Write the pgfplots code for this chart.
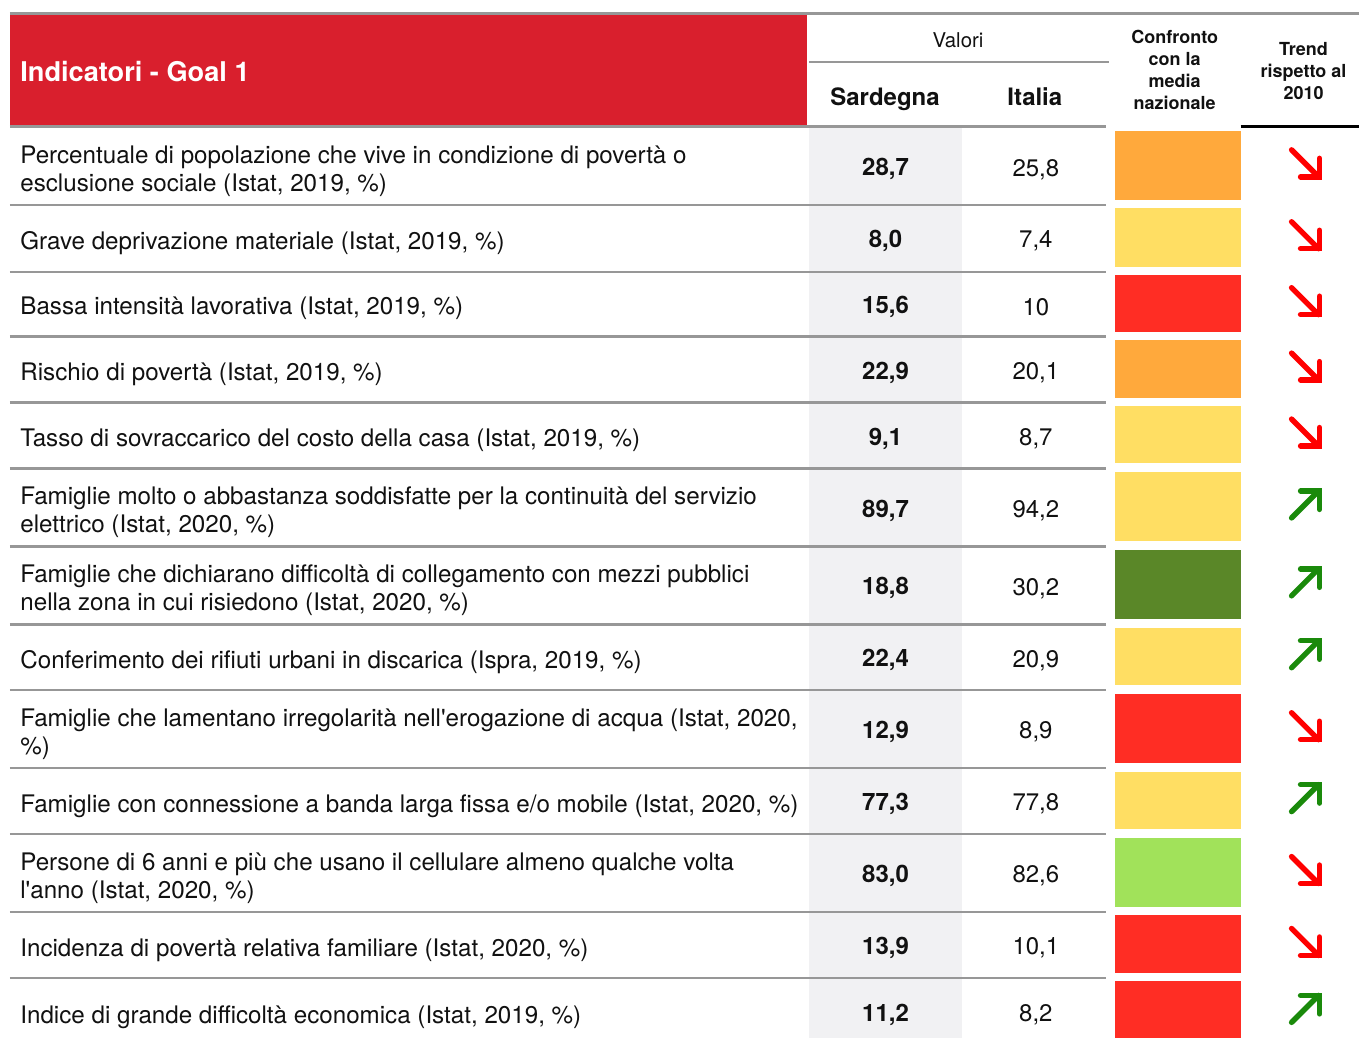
\documentclass[border=0pt]{standalone}
\usepackage{fontspec}
\setmainfont{TeX Gyre Heros}[Ligatures=TeXOff]
\usepackage{pgfplots}
\pgfplotsset{compat=1.18}
\usepackage{pgfplotstable}

\definecolor{hdrred}{HTML}{D91F2D}
\definecolor{cOrange}{HTML}{FFA93C}
\definecolor{cYellow}{HTML}{FFDE63}
\definecolor{cRed}{HTML}{FF2D24}
\definecolor{cDkGreen}{HTML}{5A8728}
\definecolor{cLtGreen}{HTML}{A1E25A}
\definecolor{lineGray}{HTML}{979797}
\definecolor{sardBg}{HTML}{F1F1F3}
\definecolor{arRed}{HTML}{FF0000}
\definecolor{arGreen}{HTML}{1A8A0B}
\definecolor{txt}{HTML}{111111}

\pgfplotstableread{
y sard ital
166.5 28,7 25,8
238.5 8,0 7,4
304.5 15,6 10
370 22,9 20,1
436 9,1 8,7
508 89,7 94,2
586 18,8 30,2
658 22,4 20,9
730 12,9 8,9
802 77,3 77,8
874 83,0 82,6
946 13,9 10,1
1013 11,2 8,2
}\valtable

\newcommand\cbox[3]{\addplot[fill=#3, draw=none, mark=none] coordinates {(1116,#1) (1242,#1) (1242,#2) (1116,#2)};}
\newcommand\rowline[1]{\addplot[lineGray, line width=1.2pt, mark=none] coordinates {(10,#1) (1107,#1)};}
\newcommand\trenddn[1]{%
  \pgfmathsetmacro\ya{#1-16.5}\pgfmathsetmacro\yb{#1+10.5}\pgfmathsetmacro\yc{#1-8}%
  \addplot[arRed, line width=2.7pt, line cap=round, mark=none] coordinates {(1293,\ya) (1320,\yb)};
  \addplot[arRed, line width=2.7pt, line cap=round, line join=miter, mark=none] coordinates {(1302,\yb) (1321,\yb) (1321,\yc)};
}
\newcommand\trendup[1]{%
  \pgfmathsetmacro\ya{#1+10.5}\pgfmathsetmacro\yb{#1-16.5}\pgfmathsetmacro\yc{#1+2}%
  \addplot[arGreen, line width=2.7pt, line cap=round, mark=none] coordinates {(1293,\ya) (1320,\yb)};
  \addplot[arGreen, line width=2.7pt, line cap=round, line join=miter, mark=none] coordinates {(1302,\yb) (1321,\yb) (1321,\yc)};
}

\tikzset{lbl/.style={anchor=west, align=left, inner sep=0pt, text=txt, font=\fontsize{12.1}{14}\selectfont}}

\begin{document}
\begin{tikzpicture}
\begin{axis}[width=680pt, height=519.5pt, scale only axis,
  xmin=0, xmax=1360, ymin=0, ymax=1039, y dir=reverse,
  hide axis, clip=false]
% bounding
\addplot[draw=none, mark=none] coordinates {(0,0) (1360,1039)};
% backgrounds
\addplot[fill=hdrred, draw=none, mark=none] coordinates {(10,15) (808,15) (808,126) (10,126)};
\addplot[fill=sardBg, draw=none, mark=none] coordinates {(810,128) (963,128) (963,1039) (810,1039)};
% header lines
\addplot[lineGray, line width=1.5pt, mark=none] coordinates {(10,13.5) (1360,13.5)};
\addplot[lineGray, line width=1pt, mark=none] coordinates {(810,62) (1110,62)};
\addplot[lineGray, line width=1.5pt, mark=none] coordinates {(10,127) (1107,127)};
\addplot[black, line width=1.5pt, mark=none] coordinates {(1242,127) (1360,127)};
% row lines
\rowline{205}\rowline{272}\rowline{337}\rowline{403}\rowline{469}\rowline{547}
\rowline{625}\rowline{691}\rowline{769}\rowline{835}\rowline{913}\rowline{979}
% colour boxes
\cbox{131.5}{200}{cOrange}
\cbox{208.5}{267}{cYellow}
\cbox{275.5}{332}{cRed}
\cbox{340.5}{398}{cOrange}
\cbox{406.5}{464}{cYellow}
\cbox{472.5}{542}{cYellow}
\cbox{550.5}{620}{cDkGreen}
\cbox{628.5}{686}{cYellow}
\cbox{694.5}{764}{cRed}
\cbox{772.5}{830}{cYellow}
\cbox{838.5}{908}{cLtGreen}
\cbox{916.5}{974}{cRed}
\cbox{982.5}{1039}{cRed}
% arrows
\trenddn{166.5}
\trenddn{238.5}
\trenddn{304.5}
\trenddn{370}
\trenddn{436}
\trendup{508}
\trendup{586}
\trendup{658}
\trenddn{730}
\trendup{802}
\trenddn{874}
\trenddn{946}
\trendup{1013}
% values
\addplot[draw=none, mark=none, nodes near coords, point meta=explicit symbolic,
  nodes near coords align={anchor=center},
  every node near coord/.append style={font=\fontsize{12}{14}\selectfont\bfseries, inner sep=0pt, text=txt}]
  table[x expr=886.5, y expr=\thisrow{y}+3, meta=sard] {\valtable};
\addplot[draw=none, mark=none, nodes near coords, point meta=explicit symbolic,
  nodes near coords align={anchor=center},
  every node near coord/.append style={font=\fontsize{12}{14}\selectfont, inner sep=0pt, text=txt}]
  table[x expr=1037, y expr=\thisrow{y}+3, meta=ital] {\valtable};
% header text
\node[anchor=west, inner sep=0pt, text=white, font=\fontsize{13.6}{15}\selectfont\bfseries] at (axis cs:20,72) {Indicatori - Goal 1};
\node[inner sep=0pt, text=txt, font=\fontsize{10.2}{12}\selectfont] at (axis cs:959,40) {Valori};
\node[anchor=base, inner sep=0pt, text=txt, font=\fontsize{12}{14}\selectfont\bfseries] at (axis cs:886,105.5) {Sardegna};
\node[anchor=base, inner sep=0pt, text=txt, font=\fontsize{12}{14}\selectfont\bfseries] at (axis cs:1036,105.5) {Italia};
\node[align=center, inner sep=0pt, text=txt, font=\fontsize{9}{11}\selectfont\bfseries] at (axis cs:1176,70) {Confronto\\con la\\media\\nazionale};
\node[align=center, inner sep=0pt, text=txt, font=\fontsize{9}{11}\selectfont\bfseries] at (axis cs:1305,71) {Trend\\rispetto al\\2010};
% row labels
\node[lbl] at (axis cs:20,171) {Percentuale di popolazione che vive in condizione di povertà o\\esclusione sociale (Istat, 2019, \%)};
\node[lbl] at (axis cs:20,243) {Grave deprivazione materiale (Istat, 2019, \%)};
\node[lbl] at (axis cs:20,309) {Bassa intensità lavorativa (Istat, 2019, \%)};
\node[lbl] at (axis cs:20,375) {Rischio di povertà (Istat, 2019, \%)};
\node[lbl] at (axis cs:20,441) {Tasso di sovraccarico del costo della casa (Istat, 2019, \%)};
\node[lbl] at (axis cs:20,513) {Famiglie molto o abbastanza soddisfatte per la continuità del servizio\\elettrico (Istat, 2020, \%)};
\node[lbl] at (axis cs:20,591) {Famiglie che dichiarano difficoltà di collegamento con mezzi pubblici\\nella zona in cui risiedono (Istat, 2020, \%)};
\node[lbl] at (axis cs:20,663) {Conferimento dei rifiuti urbani in discarica (Ispra, 2019, \%)};
\node[lbl] at (axis cs:20,735) {Famiglie che lamentano irregolarità nell'erogazione di acqua (Istat, 2020,\\\%)};
\node[lbl] at (axis cs:20,807) {Famiglie con connessione a banda larga fissa e/o mobile (Istat, 2020, \%)};
\node[lbl] at (axis cs:20,879) {Persone di 6 anni e più che usano il cellulare almeno qualche volta\\l'anno (Istat, 2020, \%)};
\node[lbl] at (axis cs:20,951) {Incidenza di povertà relativa familiare (Istat, 2020, \%)};
\node[lbl] at (axis cs:20,1018) {Indice di grande difficoltà economica (Istat, 2019, \%)};
\end{axis}
\end{tikzpicture}
\end{document}
